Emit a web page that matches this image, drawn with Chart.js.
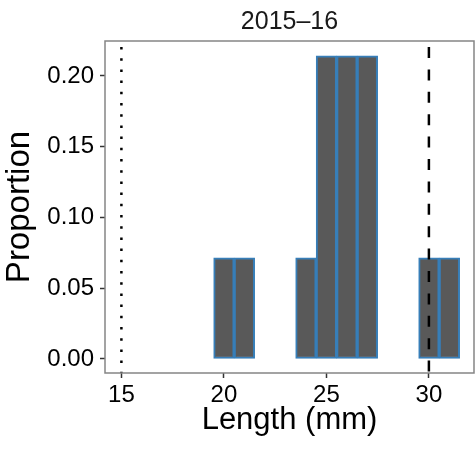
<!DOCTYPE html>
<html>
<head>
<meta charset="utf-8">
<script src="https://cdn.jsdelivr.net/npm/chart.js@4.4.1/dist/chart.umd.min.js"></script>
<style>
  html, body { margin: 0; padding: 0; background: #ffffff; }
  #wrap { width: 475px; height: 452px; }
</style>
</head>
<body>
<div id="wrap"><canvas id="lengthChart" width="475" height="452"></canvas></div>
<script>
// datos del histograma (bins de 1 mm)
const lengthBins = [20, 21, 24, 25, 26, 27, 30, 31];
const proportions = [0.0714, 0.0714, 0.0714, 0.2143, 0.2143, 0.2143, 0.0714, 0.0714];
const xTicks = [15, 20, 25, 30];
const yTicks = [0, 0.05, 0.10, 0.15, 0.20];
const refLineValues = [15, 30];
const refLineStyles = ['dotted', 'dashed'];
const panelTitle = '2015–16';

const FONT = "'Liberation Sans', Arial, Helvetica, sans-serif";

// título centrado sobre el panel, borde del panel y líneas de referencia
const panelPlugin = {
    id: 'panelPlugin',
    afterDatasetsDraw(chart) {
        const { ctx, chartArea, scales } = chart;
        ctx.save();
        refLineValues.forEach((v, i) => {
            const x = scales.x.getPixelForValue(v);
            ctx.beginPath();
            ctx.strokeStyle = '#000000';
            ctx.lineWidth = 2.5;
            if (refLineStyles[i] === 'dotted') {
                ctx.setLineDash([2.5, 8.7]);
            } else {
                ctx.setLineDash([11, 11.4]);
            }
            ctx.moveTo(x, chartArea.top + 6);
            ctx.lineTo(x, chartArea.bottom);
            ctx.stroke();
        });
        ctx.setLineDash([]);
        ctx.strokeStyle = '#858585';
        ctx.lineWidth = 1.5;
        ctx.strokeRect(chartArea.left, chartArea.top, chartArea.right - chartArea.left, chartArea.bottom - chartArea.top);

        ctx.fillStyle = '#1a1a1a';
        ctx.font = '25px ' + FONT;
        ctx.textAlign = 'center';
        ctx.textBaseline = 'alphabetic';
        ctx.fillText(panelTitle, (chartArea.left + chartArea.right) / 2, 29);
        ctx.restore();
    }
};

new Chart(document.getElementById('lengthChart'), {
    type: 'bar',
    data: {
        datasets: [{
            data: lengthBins.map((x, i) => ({ x: x, y: proportions[i] })),
            backgroundColor: '#595959',
            borderColor: '#377eb8',
            borderWidth: 2,
            borderSkipped: false,
            barPercentage: 1,
            categoryPercentage: 1
        }]
    },
    options: {
        responsive: false,
        devicePixelRatio: 1,
        animation: false,
        layout: { padding: { left: 0, right: 1, top: 41, bottom: 0 } },
        plugins: {
            legend: { display: false },
            tooltip: { enabled: false },
            title: { display: false }
        },
        scales: {
            x: {
                type: 'linear',
                min: 14.2,
                max: 32.2,
                offset: false,
                afterBuildTicks: (scale) => { scale.ticks = xTicks.map(v => ({ value: v })); },
                afterFit: (scale) => { scale.height = 79; },
                grid: { offset: false, drawOnChartArea: false, drawTicks: true, tickLength: 5, tickColor: '#333333', tickWidth: 1.5 },
                border: { display: false },
                ticks: { color: '#000000', padding: 3, maxRotation: 0, font: { family: FONT, size: 24 } },
                title: {
                    display: true,
                    text: 'Length (mm)',
                    color: '#000000',
                    font: { family: FONT, size: 31 },
                    padding: { top: 0, bottom: 13 }
                }
            },
            y: {
                type: 'linear',
                min: -0.0099,
                max: 0.2247,
                afterBuildTicks: (scale) => { scale.ticks = yTicks.map(v => ({ value: v })); },
                afterFit: (scale) => { scale.width = 105; },
                grid: { drawOnChartArea: false, drawTicks: true, tickLength: 5, tickColor: '#333333', tickWidth: 1.5 },
                border: { display: false },
                ticks: {
                    color: '#000000',
                    padding: 6,
                    font: { family: FONT, size: 24 },
                    callback: (v) => Number(v).toFixed(2)
                },
                title: {
                    display: true,
                    text: 'Proportion',
                    color: '#000000',
                    font: { family: FONT, size: 33 },
                    padding: { top: 0, bottom: 0 }
                }
            }
        }
    },
    plugins: [panelPlugin]
});
</script>
</body>
</html>
